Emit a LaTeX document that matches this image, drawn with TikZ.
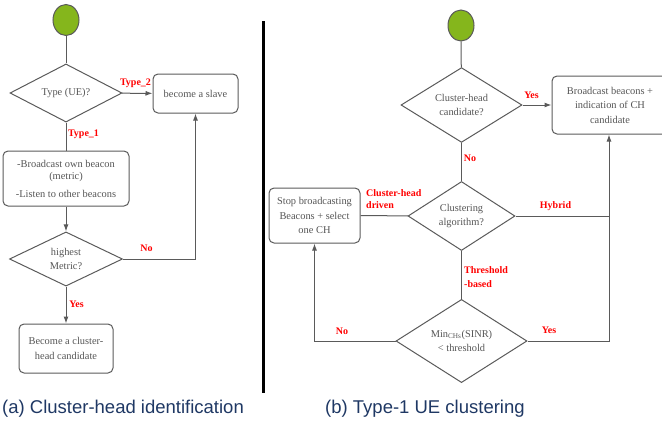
\documentclass[tikz,border=0pt]{standalone}
\usepackage{fontspec}
\setmainfont{Liberation Serif}
\newfontfamily\capfont{Liberation Sans}
\usetikzlibrary{shapes.geometric,arrows.meta}

\definecolor{startgreen}{RGB}{133,182,28}
\definecolor{linegray}{RGB}{90,90,90}
\definecolor{textgray}{RGB}{85,85,85}
\definecolor{capblue}{RGB}{31,56,100}

\tikzset{
  startnode/.style={ellipse, draw=linegray, line width=1pt, fill=startgreen, minimum width=26, minimum height=31, inner sep=0},
  decision/.style={diamond, draw=linegray, line width=1pt, aspect=1, inner sep=0, align=center, text=textgray},
  process/.style={rectangle, rounded corners=5, draw=linegray, line width=1pt, inner sep=2, align=center, text=textgray},
  answer/.style={text=red, font=\bfseries, inner sep=0, align=left},
  caption/.style={text=capblue, font=\capfont\fontsize{18.5}{20}\selectfont, inner sep=0},
  flow/.style={draw=linegray, line width=1pt},
  flowarrow/.style={flow, -{Latex[length=7,width=5]}}
}

\begin{document}
\begin{tikzpicture}[x=1pt, y=-1pt, font=\fontsize{10.4}{14.5}\selectfont]
\useasboundingbox (0,0) rectangle (662,426);

% (a) cluster-head identification
\node[startnode] (S1) at (66,20) {};
\node[decision, minimum width=112, minimum height=58] (D1) at (66,93) {Type (UE)?};
\node[process, minimum width=85, minimum height=39] (P1) at (195.5,93.5) {become a slave};
\node[process, minimum width=126, minimum height=55] (P2) at (66,178.5) {-Broadcast own beacon\\[-2pt](metric)\\[3pt]-Listen to other beacons};
\node[decision, minimum width=113, minimum height=54] (D2) at (66,259) {highest\\Metric?};
\node[process, minimum width=94, minimum height=49] (P3) at (66,348.5) {Become a cluster-\\head candidate};

\draw[flow] (S1) -- (D1);
\draw[flowarrow] (D1) -- (P1);
\draw[flow] (D1) -- (P2);
\draw[flowarrow] (P2) -- (D2);
\draw[flowarrow] (D2.east) -| (P1.south);
\draw[flowarrow] (D2) -- (P3);

\node[answer] (L1) at (135.5,83) {Type\_2};
\node[answer] (L2) at (83.5,134) {Type\_1};
\node[answer] (L3) at (146.5,248) {No};
\node[answer] (L4) at (76.5,304) {Yes};

% divider
\draw[line width=2.5pt] (263.5,21) -- (263.5,393);

% (b) type-1 UE clustering
\node[startnode] (S2) at (461,25.5) {};
\node[decision, minimum width=121, minimum height=68] (D3) at (461.5,105) {Cluster-head\\candidate?};
\node[process, minimum width=116, minimum height=58] (P4) at (610,105) {Broadcast beacons +\\indication of CH\\candidate};
\node[decision, minimum width=107, minimum height=68] (D4) at (461.5,216) {Clustering\\algorithm?};
\node[process, minimum width=91, minimum height=55] (P5) at (314.5,215.5) {Stop broadcasting\\Beacons + select\\one CH};
\node[decision, minimum width=131, minimum height=68] (D5) at (461.5,341) {Min\textsubscript{CHs}(SINR)\\< threshold};
\coordinate (J1) at (609,341);

\draw[flow] (S2) -- (D3);
\draw[flowarrow] (D3) -- (P4);
\draw[flow] (D3) -- (D4);
\draw[flow] (D4) -- (P5);
\draw[flow] (D4.east) -- (D4.east -| J1);
\draw[flow] (D4) -- (D5);
\draw[flowarrow] (D5.east) -- (J1) -- (J1 |- P4.south);
\draw[flowarrow] (D5.west) -| (P5.south);

\node[answer] (L5) at (531.5,95) {Yes};
\node[answer] (L6) at (470,158) {No};
\node[answer, anchor=west] (L7) at (366,199) {Cluster-head\\driven};
\node[answer] (L8) at (555.5,206) {Hybrid};
\node[answer, anchor=west] (L9) at (464,277.5) {Threshold\\[2pt]-based};
\node[answer] (L10) at (342,331) {No};
\node[answer] (L11) at (549,330) {Yes};

% captions
\node[caption, anchor=west] (C1) at (2,409) {(a) Cluster-head identification};
\node[caption, anchor=west] (C2) at (325,409) {(b) Type-1 UE clustering};
\end{tikzpicture}
\end{document}
